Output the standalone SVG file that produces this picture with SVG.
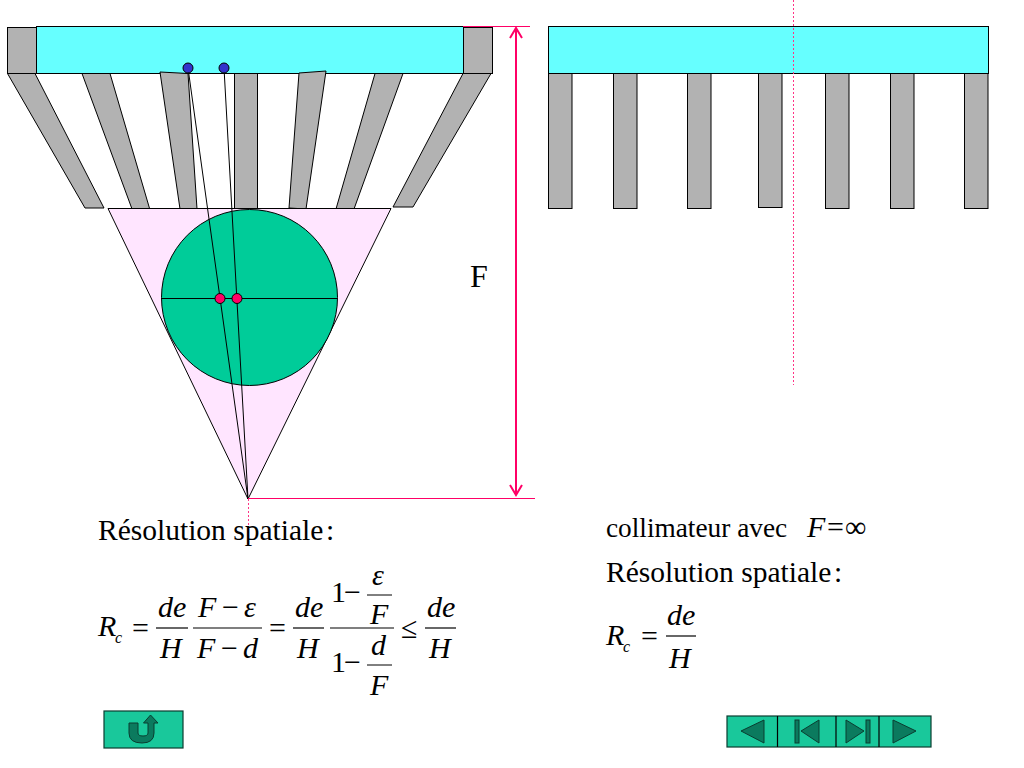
<svg xmlns="http://www.w3.org/2000/svg" width="1024" height="768" viewBox="0 0 1024 768">
<style>
.t{font-family:"Liberation Serif","Times New Roman",serif;font-size:30px;fill:#000}
.h{font-size:29.5px}
.i{font-style:italic}
.s{font-size:16px}
.g{fill:#b2b2b2;stroke:#000;stroke-width:1}
.c{fill:#66ffff;stroke:#000;stroke-width:1}
.l{stroke:#000;stroke-width:1;fill:none}
.b{stroke:#000;stroke-width:1.2;fill:none}
.p{stroke:#ff0066;stroke-width:1;fill:none}
.d{stroke:#ff3385;stroke-width:1;stroke-dasharray:2 2;fill:none}
.btn{fill:#19c89b;stroke:#0a3d30;stroke-width:1.2}
.ic{fill:#0b7a5e;stroke:#0a3d30;stroke-width:1}
</style>
<rect width="1024" height="768" fill="#fff"/>
<g id="collimator-focused">
<rect class="c" x="36.500" y="26.500" width="427" height="47"/>
<rect class="g" x="7.500" y="27.500" width="29" height="46"/>
<rect class="g" x="463.500" y="27.500" width="29" height="46"/>
<polygon class="g" points="7.500,73.500 35,73.500 104,208 85,208"/>
<polygon class="g" points="82,73.500 110,73.500 150,210 132,209"/>
<polygon class="g" points="160,72 188,73.500 197,209 180,209"/>
<rect class="g" x="234.500" y="73.500" width="23" height="135"/>
<polygon class="g" points="299,73 326,71 306,209 289,208"/>
<polygon class="g" points="375,73.500 403,73.500 354,209 336,209"/>
<polygon class="g" points="463,73.500 491,73.500 413,207 393,207"/>
</g>
<g id="field">
<polygon points="108,208.500 391,208.500 248,499" fill="#ffe5ff" stroke="#000"/>
<circle cx="249.500" cy="297.500" r="88" fill="#00cc99" stroke="#000"/>
</g>
<g id="collimator-parallel">
<rect class="c" x="548.500" y="26.500" width="440" height="47"/>
<rect class="g" x="548.500" y="73.500" width="23.500" height="135"/>
<rect class="g" x="613.500" y="73.500" width="23.500" height="135"/>
<rect class="g" x="687.500" y="73.500" width="23.500" height="135"/>
<rect class="g" x="758.500" y="73.500" width="23.500" height="134"/>
<rect class="g" x="825.500" y="73.500" width="23.500" height="135"/>
<rect class="g" x="890.500" y="73.500" width="23.500" height="135"/>
<rect class="g" x="964.500" y="73.500" width="23.500" height="135"/>
</g>
<g id="connectors">
<line class="l" x1="161" y1="298.500" x2="337" y2="298.500"/>
<line class="l" x1="188" y1="68" x2="248" y2="499"/>
<line class="l" x1="224" y1="68" x2="248" y2="499"/>
<line class="p" x1="463" y1="26.500" x2="530" y2="26.500"/>
<line class="p" x1="248" y1="498.500" x2="535" y2="498.500"/>
<line class="d" x1="248.500" y1="499" x2="248.500" y2="547"/>
<line class="d" x1="793.500" y1="0" x2="793.500" y2="385"/>
<path d="M516 28V495M510 38L516 28L522 38M510 485L516 495L522 485" fill="none" stroke="#ff0066" stroke-width="2"/>
</g>
<g id="points">
<circle cx="188" cy="68" r="5" fill="#3333cc" stroke="#000"/>
<circle cx="224" cy="68" r="5" fill="#3333cc" stroke="#000"/>
<circle cx="220" cy="298.500" r="5" fill="#ff0066" stroke="#000"/>
<circle cx="237" cy="298.500" r="5" fill="#ff0066" stroke="#000"/>
</g>
<text class="t" x="470" y="287" style="font-size:32px">F</text>
<g id="formula-left">
<text class="t h" x="98" y="540">Résolution spatiale</text>
<text class="t h" x="326" y="540">:</text>
<text class="t i" x="98" y="636">R</text>
<text class="t i s" x="115" y="643">c</text>
<text class="t" x="132" y="638">=</text>
<text class="t i" x="158" y="617">de</text>
<line class="b" x1="156" y1="628" x2="188" y2="628"/>
<text class="t i" x="160" y="658">H</text>
<text class="t i" x="198" y="617">F</text>
<text class="t" x="222" y="617">−</text>
<text class="t i" x="244" y="617">ε</text>
<line class="b" x1="193" y1="628" x2="262" y2="628"/>
<text class="t i" x="197" y="658">F</text>
<text class="t" x="221" y="658">−</text>
<text class="t i" x="243" y="658">d</text>
<text class="t" x="269" y="638">=</text>
<text class="t i" x="295" y="617">de</text>
<line class="b" x1="293" y1="628" x2="324" y2="628"/>
<text class="t i" x="297" y="658">H</text>
<text class="t" x="331" y="602">1</text>
<text class="t" x="344" y="602">−</text>
<text class="t i" x="372" y="585">ε</text>
<line class="l" x1="367" y1="595" x2="392" y2="595"/>
<text class="t i" x="370" y="624">F</text>
<line class="b" x1="330" y1="628" x2="394" y2="628"/>
<text class="t" x="331" y="672">1</text>
<text class="t" x="344" y="672">−</text>
<text class="t i" x="371" y="655">d</text>
<line class="l" x1="367" y1="665" x2="392" y2="665"/>
<text class="t i" x="370" y="695">F</text>
<text class="t" x="401" y="638">≤</text>
<text class="t i" x="427" y="617">de</text>
<line class="b" x1="425" y1="628" x2="456" y2="628"/>
<text class="t i" x="429" y="658">H</text>
</g>
<g id="formula-right">
<text class="t" x="606" y="537" style="font-size:27.300px">collimateur avec</text>
<text class="t i" x="807" y="537">F</text>
<text class="t" x="827" y="537">=</text>
<text class="t" x="845" y="537">∞</text>
<text class="t h" x="606" y="582">Résolution spatiale</text>
<text class="t h" x="834" y="582">:</text>
<text class="t i" x="606" y="645">R</text>
<text class="t i s" x="623" y="652">c</text>
<text class="t" x="641" y="646">=</text>
<text class="t i" x="667" y="625">de</text>
<line class="b" x1="666" y1="636" x2="696" y2="636"/>
<text class="t i" x="669" y="668">H</text>
</g>
<g id="btn-return">
<rect class="btn" x="104" y="711" width="79" height="37"/>
<path class="ic" d="M129 723H138V733Q138 736 143 736Q148 736 148 733V723H143.500L150.500 715L158 723H154V733Q154 743 142 743Q129 743 129 733Z"/>
</g>
<g id="btn-nav">
<rect class="btn" x="727" y="716" width="204" height="31"/>
<line class="b" x1="777.500" y1="716" x2="777.500" y2="747"/>
<line class="b" x1="836" y1="716" x2="836" y2="747"/>
<line class="b" x1="879" y1="716" x2="879" y2="747"/>
<polygon class="ic" points="741,731 764,720 764,743"/>
<rect class="ic" x="795" y="720" width="4" height="23"/>
<polygon class="ic" points="801,731 819,720 819,743"/>
<polygon class="ic" points="846,720 864,731 846,743"/>
<rect class="ic" x="866" y="720" width="4" height="23"/>
<polygon class="ic" points="893,720 916,731 893,743"/>
</g>
</svg>
